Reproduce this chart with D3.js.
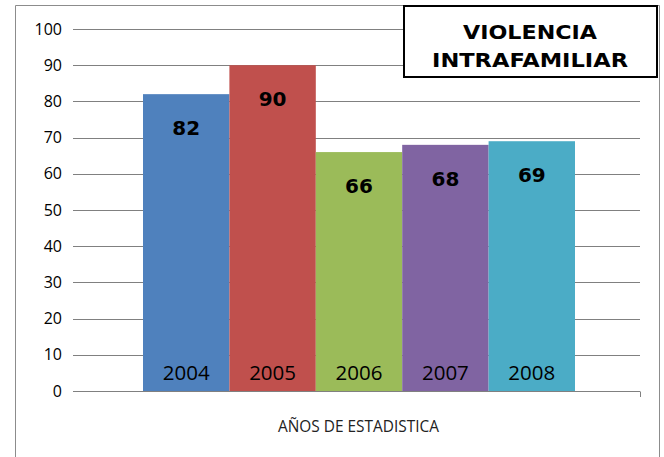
<!DOCTYPE html>
<html>
<head>
<meta charset="utf-8">
<script src="https://cdn.jsdelivr.net/npm/d3@7"></script>
<style>
  body { margin: 0; background: #fff; }
</style>
</head>
<body>
<div id="chart"></div>
<script>
const years = ["2004", "2005", "2006", "2007", "2008"]
const values = [82, 90, 66, 68, 69]
const colors = ["#4F81BD", "#C0504D", "#9BBB59", "#8064A2", "#4BACC6"]
const yTicks = [0, 10, 20, 30, 40, 50, 60, 70, 80, 90, 100]
const titleLines = ["VIOLENCIA", "INTRAFAMILIAR"]
const xTitle = "AÑOS DE ESTADISTICA"

const width = 664
const height = 457

const svg = d3.select("#chart").append("svg")
    .attr("width", width)
    .attr("height", height)

// outer frame of the chart area
svg.append("path")
    .attr("d", "M15.5,470 V5.5 H659.5 V470")
    .attr("fill", "none")
    .attr("stroke", "#8c8c8c")
    .attr("stroke-width", 1)

const y = d3.scaleLinear()
    .domain([0, 100])
    .range([391, 29])

const x = d3.scaleBand()
    .domain(years)
    .range([143, 575])
    .padding(0)

// gridlines
svg.append("g")
    .selectAll("line")
    .data(yTicks)
    .join("line")
    .attr("x1", 73)
    .attr("x2", 640)
    .attr("y1", d => Math.round(y(d)) + 0.5)
    .attr("y2", d => Math.round(y(d)) + 0.5)
    .attr("stroke", "#808080")
    .attr("stroke-width", 1)

// tick at the right end of the x axis
svg.append("line")
    .attr("x1", 640.5).attr("x2", 640.5)
    .attr("y1", Math.round(y(0)) + 0.5)
    .attr("y2", Math.round(y(0)) + 6)
    .attr("stroke", "#808080")

// y tick labels
svg.append("g")
    .attr("font-family", "'Open Sans', sans-serif")
    .attr("font-size", 16)
    .attr("text-anchor", "end")
    .attr("fill", "#000")
    .selectAll("text")
    .data(yTicks)
    .join("text")
    .attr("x", 62)
    .attr("y", d => y(d))
    .attr("dy", "0.35em")
    .text(d => d)

// bars
svg.append("g")
    .selectAll("rect")
    .data(values)
    .join("rect")
    .attr("x", (d, i) => x(years[i]))
    .attr("y", d => y(d))
    .attr("width", x.bandwidth())
    .attr("height", d => y(0) - y(d))
    .attr("fill", (d, i) => colors[i])

// value labels
svg.append("g")
    .attr("font-family", "'DejaVu Sans', Verdana, sans-serif")
    .attr("font-weight", "bold")
    .attr("font-size", 20)
    .attr("text-anchor", "middle")
    .selectAll("text")
    .data(values)
    .join("text")
    .attr("x", (d, i) => x(years[i]) + x.bandwidth() / 2)
    .attr("y", d => y(d) + 34)
    .attr("dy", "0.35em")
    .text(d => d)

// year labels inside the bars
svg.append("g")
    .attr("font-family", "'Open Sans', sans-serif")
    .attr("font-size", 20.5)
    .attr("text-anchor", "middle")
    .selectAll("text")
    .data(years)
    .join("text")
    .attr("x", d => x(d) + x.bandwidth() / 2)
    .attr("y", 373)
    .attr("dy", "0.35em")
    .text(d => d)

// x axis title
svg.append("text")
    .attr("x", 278)
    .attr("y", 426)
    .attr("dy", "0.35em")
    .attr("font-family", "'Open Sans', sans-serif")
    .attr("font-size", 17)
    .attr("textLength", 161)
    .attr("lengthAdjust", "spacingAndGlyphs")
    .attr("fill", "#222")
    .text(xTitle)

// title box
svg.append("rect")
    .attr("x", 404)
    .attr("y", 6)
    .attr("width", 253)
    .attr("height", 71)
    .attr("fill", "#fff")
    .attr("stroke", "#000")
    .attr("stroke-width", 2)

const titleWidths = [134, 196]
svg.append("g")
    .attr("font-family", "'DejaVu Sans', Verdana, sans-serif")
    .attr("font-weight", "bold")
    .attr("font-size", 20)
    .attr("text-anchor", "middle")
    .selectAll("text")
    .data(titleLines)
    .join("text")
    .attr("x", 530)
    .attr("y", (d, i) => 32 + i * 28)
    .attr("dy", "0.35em")
    .attr("textLength", (d, i) => titleWidths[i])
    .attr("lengthAdjust", "spacingAndGlyphs")
    .text(d => d)
</script>
</body>
</html>
